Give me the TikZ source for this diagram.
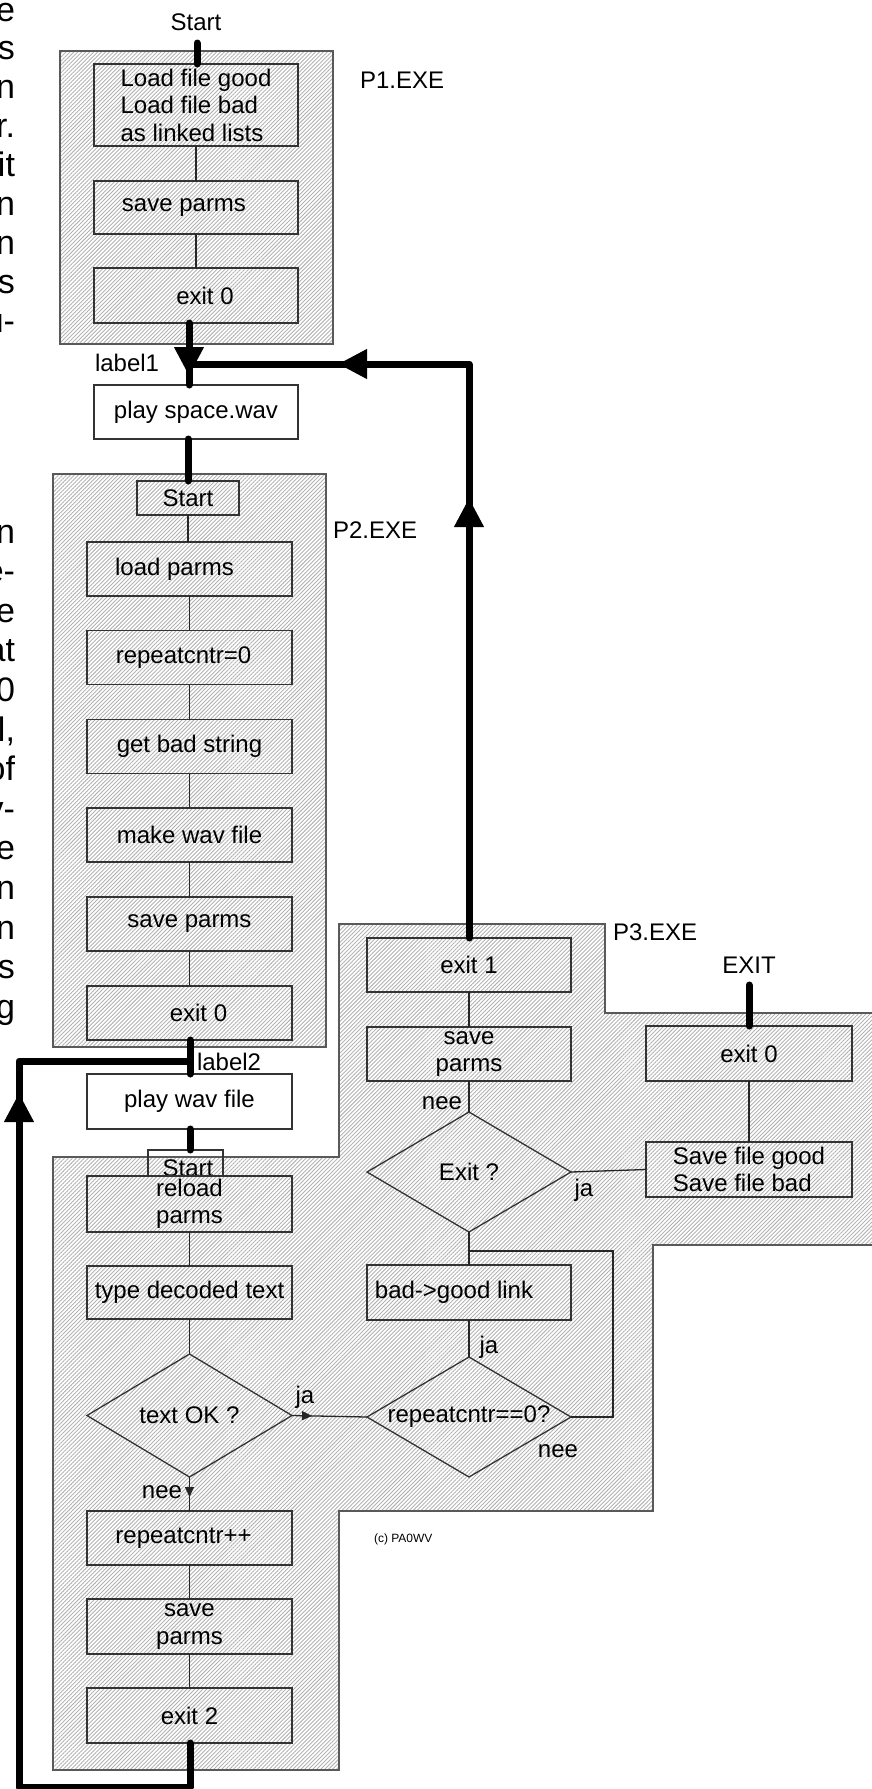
\documentclass[tikz,border=0pt]{standalone}
\usepackage{fontspec}
\setmainfont{Liberation Sans}
\usetikzlibrary{shapes.geometric,arrows.meta,decorations.markings,patterns.meta}
\begin{document}
\begin{tikzpicture}[x=1pt,y=-1pt,
  every node/.style={font=\fontsize{24}{27.5}\selectfont, inner sep=0pt, outer sep=0pt},
  region/.style={draw=black!65, line width=1.3pt, pattern={Lines[angle=45,distance=2.8pt,line width=0.9pt]}, pattern color=gray!60},
  box/.style={draw=black!80, line width=1.3pt, rectangle, minimum width=205pt, minimum height=54pt},
  wbox/.style={box, fill=white},
  dia/.style={draw=black!80, line width=1.3pt, diamond, aspect=1.7, minimum width=204pt, minimum height=121pt},
  thinline/.style={draw=black!85, line width=1.3pt},
  thickline/.style={draw=black, line width=7pt, line cap=round, line join=round},
  bigarrow at/.style={postaction={decorate, decoration={markings, mark=at position #1 with {\arrow{Triangle[length=29pt,width=28pt]}}}}},
  smallarrow at/.style={postaction={decorate, decoration={markings, mark=at position #1 with {\arrow{Triangle[length=10pt,width=9pt]}}}}},
  frag/.style={font=\fontsize{34}{38}\selectfont, anchor=base east},
]
\useasboundingbox (0,0) rectangle (872,1789);

% ---------- regions ----------
\path[region] (60,51) rectangle (333,344);
\path[region] (53,474) rectangle (326,1047);
\path[region] (339,924) -- (605,924) -- (605,1013) -- (890,1013) -- (890,1245) -- (653,1245) -- (653,1511) -- (339,1511) -- (339,1770) -- (53,1770) -- (53,1157) -- (339,1157) -- cycle;

% ---------- cropped text at left ----------
\foreach \t [count=\i] in {e,s,n,r.,it,n,n,s,u-}
  \node[frag] (fa\i) at (15,{21+38.9*(\i-1)}) {\t};
\foreach \t [count=\i] in {n,e-,e,at,0,{l,},of,v-,e,n,n,s,g}
  \node[frag] (fb\i) at (15,{543+39.6*(\i-1)}) {\t};

% ---------- P1 ----------
\node (startlbl) at (196,22) {Start};
\coordinate (s0) at (197,43);
\node[box, minimum width=204pt, minimum height=82pt, align=left] (load) at (196,105) {Load file good\\Load file bad\\as linked lists};
\node[box, minimum width=204pt, minimum height=53pt] (p1save) at (196,207.5) {save parms\hspace*{24pt}};
\node[box, minimum width=204pt, minimum height=55pt] (p1exit) at (196,295.5) {\hspace*{18pt}exit 0};
\node[anchor=west] (p1name) at (360,80) {P1.EXE};
\node[anchor=west] (label1) at (95,363) {label1};
\coordinate (j1) at (189,364);
\node[wbox, minimum width=204pt] (playspace) at (196,412) {play space.wav};

% ---------- P2 ----------
\node[box, minimum width=102pt, minimum height=34pt] (p2start) at (188,498) {Start};
\node[anchor=west] (p2name) at (333,530) {P2.EXE};
\node[box] (p2load) at (189.5,569) {load parms\hspace*{30pt}};
\node[box] (p2rep) at (189.5,657.5) {repeatcntr=0\hspace*{12pt}};
\node[box] (p2get) at (189.5,746.5) {get bad string};
\node[box] (p2make) at (189.5,835) {make wav file};
\node[box] (p2save) at (189.5,924) {save parms};
\node[box] (p2exit) at (189.5,1013) {\hspace*{18pt}exit 0};
\node[anchor=west] (label2) at (197,1062) {label2};
\coordinate (j2) at (190,1061);
\node[wbox, minimum height=55pt] (playwav) at (189.5,1101.5) {play wav file};

% ---------- P4 (lower part) ----------
\node[draw=black!80, line width=1.3pt, minimum width=75pt, minimum height=26pt] (p4start) at (185.5,1163) {};
\node (p4starttxt) at (188,1168) {Start};
\node[box, minimum height=56pt, align=center] (reload) at (189.5,1204) {reload\\parms};
\node[box, minimum height=53pt] (typedec) at (189.5,1292.5) {type decoded text};
\node[dia, minimum width=205pt, minimum height=123pt] (textok) at (189.5,1415.5) {text OK ?};
\node[box] (repinc) at (189.5,1538) {repeatcntr++\hspace*{12pt}};
\node[box, minimum height=55pt, align=center] (p4save) at (189.5,1626.5) {save\\parms};
\node[box, minimum height=55pt] (exit2) at (189.5,1715.5) {exit 2};
\coordinate (c1) at (190,1787);
\coordinate (c2) at (19,1787);
\coordinate (c3) at (19,1061);

% ---------- P3 ----------
\node[anchor=west] (p3name) at (613,932) {P3.EXE};
\node[box, minimum width=204pt] (exit1) at (469,965) {exit 1};
\node[box, minimum width=204pt, align=center] (p3save) at (469,1054) {save\\parms};
\node[dia, minimum height=120pt] (exitq) at (469,1172) {Exit ?};
\node[box, minimum width=204pt, minimum height=55pt] (badgood) at (469,1292.5) {bad->good link\hspace*{30pt}};
\node[dia, minimum height=120pt] (repq) at (469,1417) {repeatcntr==0?};
\coordinate (lc1) at (613,1251);
\coordinate (lc2) at (469,1251);
\node (exitlbl) at (749,965) {EXIT};
\coordinate (e0) at (749,985);
\node[box, minimum width=206pt, minimum height=55pt] (exit0r) at (749,1053.5) {exit 0};
\node[box, minimum width=206pt, minimum height=55pt, align=left] (savefile) at (749,1169.5) {Save file good\\Save file bad};

% ---------- labels ----------
\node (nee1) at (442,1103) {nee};
\node (ja1) at (584,1190) {ja};
\node (ja2) at (489,1347) {ja};
\node (nee2) at (558,1451) {nee};
\node (ja3) at (305,1397) {ja};
\node[anchor=east] (nee3) at (182,1492) {nee};
\node[anchor=west, font=\fontsize{12}{14}\selectfont] (copy) at (374,1539) {(c) PA0WV};

% ---------- thin connectors ----------
\draw[thinline] (load) -- (p1save);
\draw[thinline] (p1save) -- (p1exit);
\draw[thinline] (p2start.south) -- (p2start.south |- p2load.north);
\draw[thinline] (p2load) -- (p2rep);
\draw[thinline] (p2rep) -- (p2get);
\draw[thinline] (p2get) -- (p2make);
\draw[thinline] (p2make) -- (p2save);
\draw[thinline] (p2save) -- (p2exit);
\draw[thinline] (reload) -- (typedec);
\draw[thinline] (typedec) -- (textok);
\draw[thinline, smallarrow at=20pt] (textok.south) -- (repinc.north);
\draw[thinline, smallarrow at=20pt] (textok.east) -- (repq.west);
\draw[thinline] (repinc) -- (p4save);
\draw[thinline] (p4save) -- (exit2);
\draw[thinline] (exit1) -- (p3save);
\draw[thinline] (p3save) -- (exitq);
\draw[thinline] (exitq.east) -- (savefile.west);
\draw[thinline] (exitq.south) -- (badgood.north);
\draw[thinline] (badgood) -- (repq);
\draw[thinline] (repq.east) -| (lc1) -- (lc2);
\draw[thinline] (exit0r) -- (savefile);

% ---------- thick connectors ----------
\draw[thickline] (s0) -- (load.north -| s0);
\draw[thickline, bigarrow at=53pt] (p1exit.south -| j1) -- (playspace.north -| j1);
\draw[thickline, bigarrow at=440pt, bigarrow at=705pt] (exit1.north) |- (j1);
\draw[thickline] (playspace.south -| p2start.north) -- (p2start.north);
\draw[thickline] (p2exit.south -| j2) -- (playwav.north -| j2);
\draw[thickline] (playwav.south -| j2) -- (p4start.north -| j2);
\draw[thickline, bigarrow at=909pt] (exit2.south -| j2) -- (c1) -- (c2) -- (c3) -- (j2);
\draw[thickline] (e0) -- (exit0r.north);
\end{tikzpicture}
\end{document}
